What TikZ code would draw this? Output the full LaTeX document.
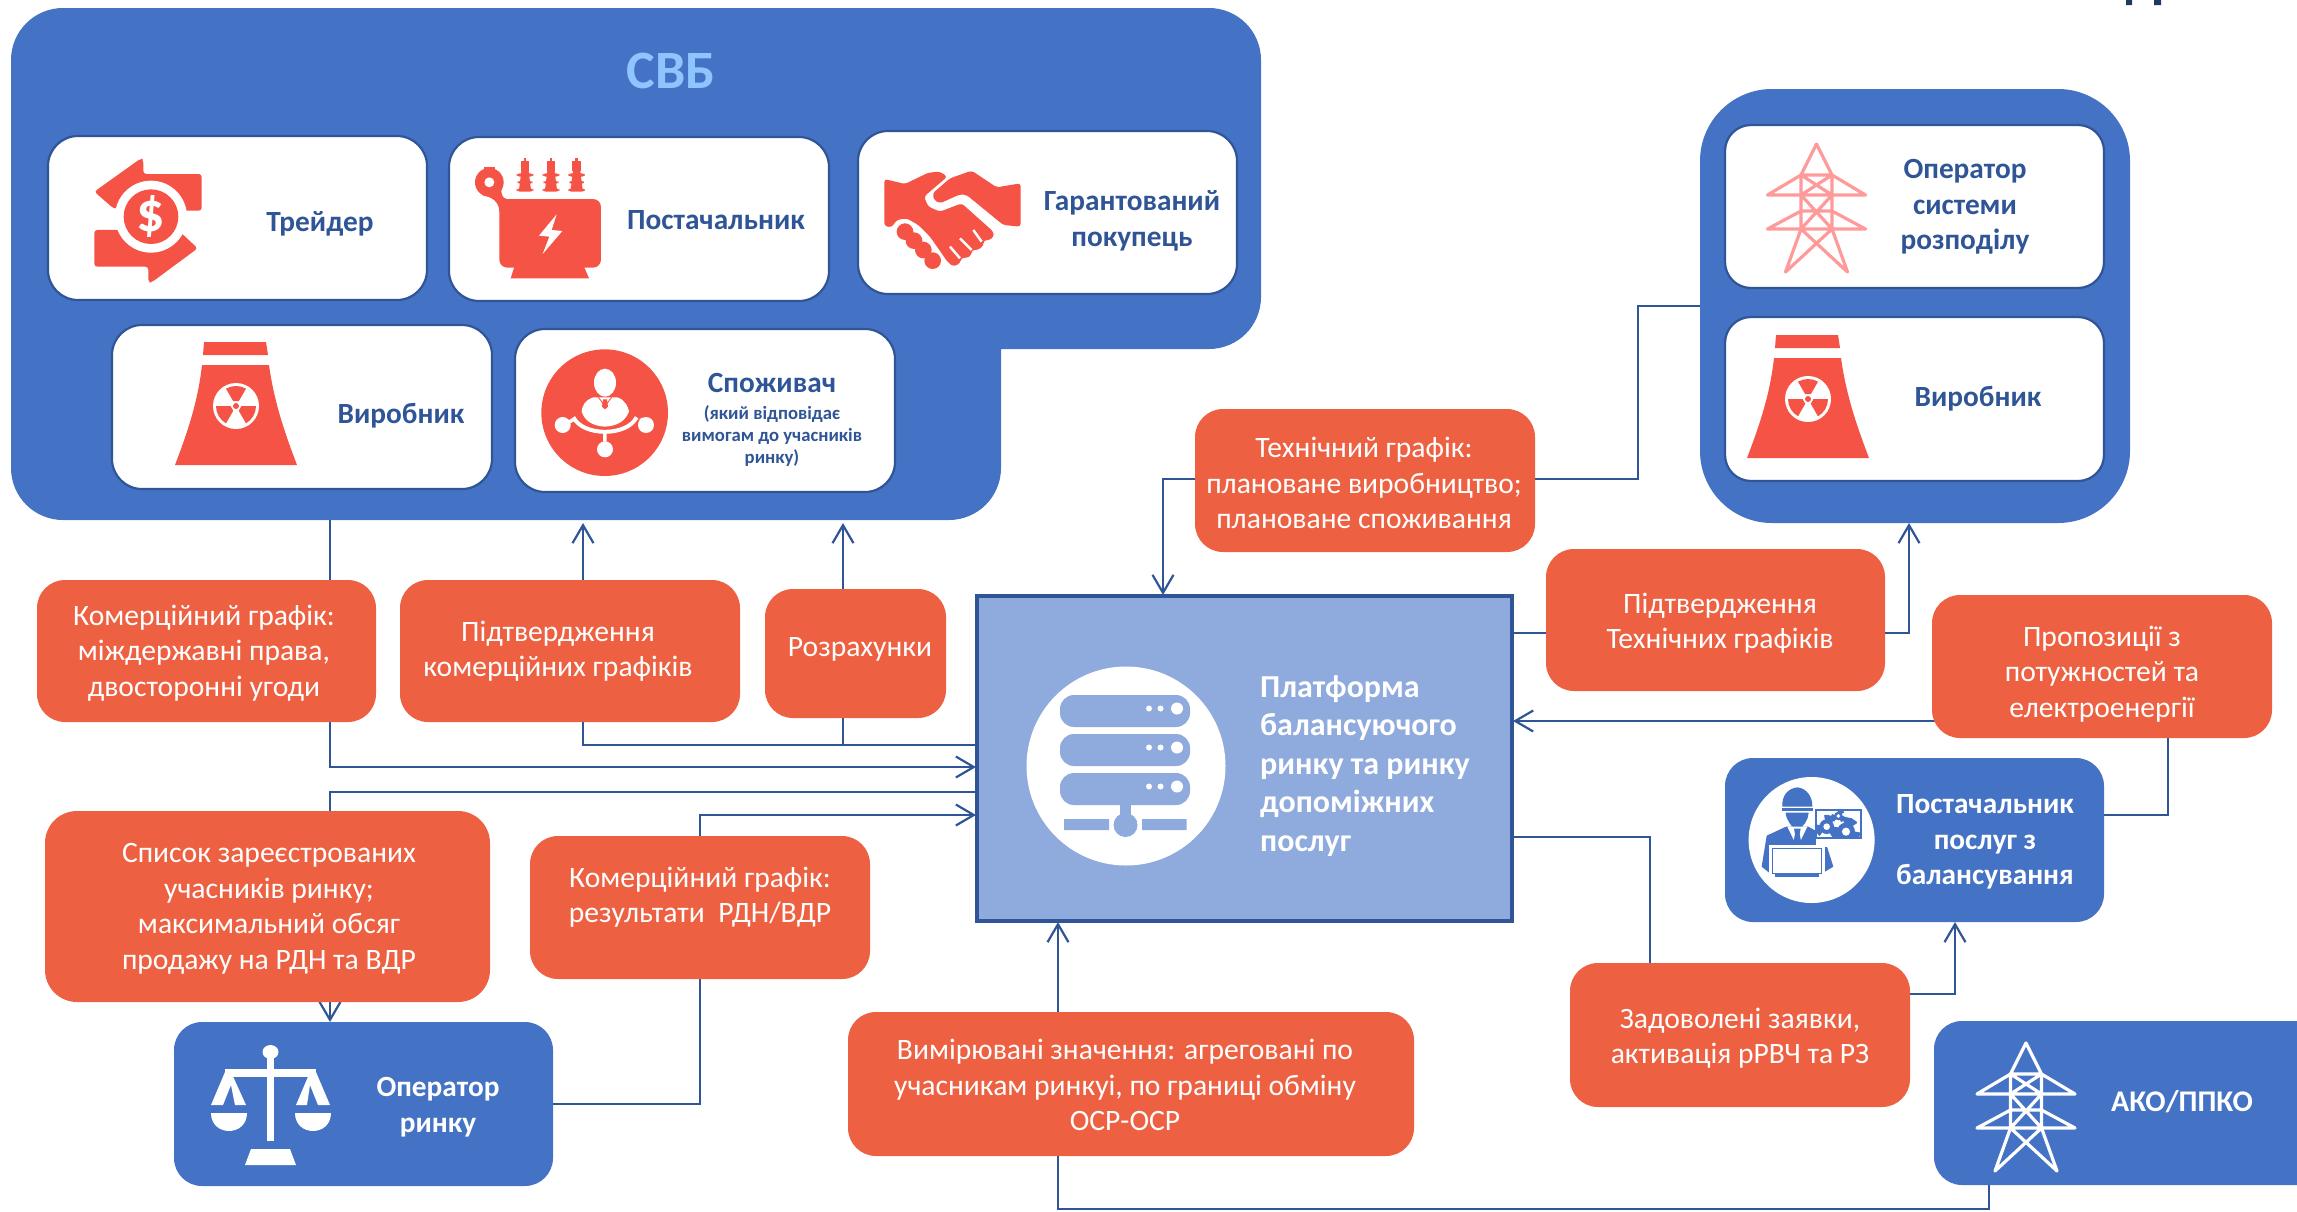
\documentclass[tikz,border=0pt]{standalone}
\usepackage{fontspec}
\setmainfont{Carlito}
\usetikzlibrary{arrows.meta}
\definecolor{blueF}{HTML}{4472C4}
\definecolor{blueD}{HTML}{2F5597}
\definecolor{blueL}{HTML}{8FAADC}
\definecolor{orangeF}{HTML}{ED6142}
\definecolor{redI}{HTML}{F55345}
\definecolor{pinkI}{HTML}{FF9A9A}
\definecolor{svbT}{HTML}{8FC5FF}
\definecolor{navy}{HTML}{1F3864}
\pgfdeclarelayer{bg}
\pgfsetlayers{bg,main}
\tikzset{
  card/.style={draw=blueD,line width=2.2pt,fill=white,rounded corners=30pt,inner sep=0pt,outer sep=0pt},
  cardR/.style={card,rounded corners=26pt},
  orangebox/.style={fill=orangeF,rounded corners=28pt,inner sep=0pt,outer sep=0pt},
  bluebox/.style={fill=blueF,rounded corners=28pt,inner sep=0pt,outer sep=0pt},
  cardtext/.style={text=blueD,align=center,inner sep=0pt,font=\fontsize{29.3}{35.5}\selectfont\bfseries},
  whitebold/.style={text=white,align=center,inner sep=0pt,font=\fontsize{29.3}{35.5}\selectfont\bfseries},
  orangetext/.style={text=white,align=center,inner sep=0pt,font=\fontsize{29.6}{35.5}\selectfont},
  link/.style={draw=blueD,line width=2.2pt},
  linkto/.style={link,-{Straight Barb[length=18pt,width=21pt,line width=2.2pt]}},
  pics/tower/.style={code={
    \fill[redI] (-32,-64) -- (30,-64) -- (32,-51) -- (-33,-51) -- cycle;
    \fill[redI] (-34,-41) -- (33,-41) .. controls (38,-5) and (48,25) .. (61,59) -- (-61,59) .. controls (-48,25) and (-38,-5) .. (-34,-41) -- cycle;
    \fill[white] (0,0) circle[radius=23];
    \foreach \a in {-90,30,150}{
      \fill[redI] (\a-30:5.5) -- (\a-30:20) arc[start angle=\a-30,end angle=\a+30,radius=20] -- (\a+30:5.5) -- cycle;
    }
    \fill[redI] (0,0) circle[radius=3];
  }},
  pics/pylon/.style={code={
    \draw[#1,line width=3.2pt,line join=round,line cap=round]
      (-15.5,31) -- (0,0) -- (15.5,31) -- cycle
      (-15.5,31) -- (-49,51) -- (49,51) -- (15.5,31)
      (-15.5,67) -- (-49,85) -- (49,85) -- (15.5,67) -- cycle
      (-15.5,31) -- (-15.5,85) -- (-31,128) -- (15.5,85) -- (15.5,31)
      (15.5,85) -- (31,128) -- (-15.5,85)
      (-15.5,31) -- (15.5,51) (15.5,31) -- (-15.5,51)
      (-15.5,51) -- (15.5,85) (15.5,51) -- (-15.5,85);
  }},
  pics/gear/.style={code={
    \fill[blueF] (0,0) circle[radius=#1];
    \draw[blueF,line width=#1*0.35pt,dash pattern=on #1*0.4pt off #1*0.4pt] (0,0) circle[radius=#1*1.08];
    \fill[white] (0,0) circle[radius=#1*0.45];
  }},
}
\newcommand\bx[7]{\node[#2,minimum width={#5-#3},minimum height={#6-#4}] (#1) at ({(#3+#5)/2},{(#4+#6)/2}) {#7};}
\begin{document}
\begin{tikzpicture}[x=1pt,y=-1pt]
\useasboundingbox (0,0) rectangle (2297,1211);
% partial title glyphs at the page top
\fill[navy] (2126,0) rectangle (2132,5) (2154,0) rectangle (2161,5);
% big containers
\fill[blueF,rounded corners=52pt] (11,200) -- (11,8) -- (1261,8) -- (1261,349) -- (1060,349) [sharp corners] -- (1001,349) -- (1001,420) [rounded corners=52pt] -- (1001,520) -- (11,520) -- cycle;
\node[text=svbT,inner sep=0pt,font=\fontsize{54}{60}\selectfont\bfseries] (svbtitle) at (671,71) {СВБ};
\bx{osrbox}{bluebox,rounded corners=72pt}{1700}{89}{2130}{523}{}
% cards
\bx{trader}{card}{48}{136}{427}{300}{}
\bx{supplier}{card}{449}{137}{829}{301}{}
\bx{buyer}{card}{858}{131}{1237}{294}{}
\bx{producer}{card}{112}{325}{492}{489}{}
\bx{consumer}{card}{515}{329}{895}{492}{}
\bx{dso}{cardR}{1725}{125}{2104}{288}{}
\bx{producerB}{cardR}{1725}{317}{2104}{481}{}
% platform
\bx{plat}{draw=blueD,line width=4pt,fill=blueL,inner sep=0pt,outer sep=0pt}{977}{596}{1512}{921}{}
% orange boxes
\bx{comA}{orangebox}{37}{580}{376}{722}{}
\bx{confA}{orangebox}{400}{580}{740}{722}{}
\bx{calc}{orangebox}{765}{589}{946}{718}{}
\bx{tech}{orangebox}{1195}{409}{1535}{552}{}
\bx{confT}{orangebox}{1546}{549}{1885}{691}{}
\bx{offer}{orangebox}{1932}{595}{2272}{738}{}
\bx{list}{orangebox,rounded corners=32pt}{45}{811}{490}{1002}{}
\bx{comB}{orangebox}{530}{836}{870}{979}{}
\bx{meas}{orangebox}{848}{1012}{1414}{1156}{}
\bx{sat}{orangebox}{1570}{963}{1910}{1107}{}
% orange box texts
\node[orangetext] (comAt) at (204,653) {Комерційний графік:\\міждержавні права,\\двосторонні угоди};
\node[orangetext] (confAt) at (558,651) {Підтвердження\\комерційних графіків};
\node[orangetext] (calct) at (860,649) {Розрахунки};
\node[orangetext] (techt) at (1364,483) {Технічний графік:\\плановане виробництво;\\плановане споживання};
\node[orangetext] (confTt) at (1720,623) {Підтвердження\\Технічних графіків};
\node[orangetext] (offert) at (2102,674) {Пропозиції з\\потужностей та\\електроенергії};
\node[orangetext] (listt) at (269,909) {Список зареєстрованих\\учасників ринку;\\максимальний обсяг\\продажу на РДН та ВДР};
\node[orangetext] (comBt) at (700,897) {Комерційний графік:\\результати~~РДН/ВДР};
\node[orangetext] (meast) at (1125,1085) {Вимірювані значення: агреговані по\\учасникам ринкуі, по границі обміну\\ОСР-ОСР};
\node[orangetext] (satt) at (1740,1038) {Задоволені заявки,\\активація рРВЧ та РЗ};
% blue boxes
\bx{market}{bluebox}{174}{1022}{553}{1186}{}
\bx{bsp}{bluebox}{1725}{758}{2104}{922}{}
\bx{tso}{bluebox}{1934}{1021}{2325}{1185}{}
% port coordinates
\coordinate (svbA) at (330,520);
\coordinate (svbB) at (583,523);
\coordinate (svbC) at (843,523);
\coordinate (pL1) at (976,767);
\coordinate (pL2) at (976,745);
\coordinate (jL2) at (843,745);
\coordinate (pL3) at (976,792);
\coordinate (pL4) at (976,815);
\coordinate (kL4) at (700,815);
\coordinate (mT) at (330,1022);
\coordinate (mR) at (553,1104);
\coordinate (oL) at (1700,306);
\coordinate (kT) at (1638,479);
\coordinate (pT) at (1163,595);
\coordinate (pR1) at (1513,633);
\coordinate (oB) at (1909,523);
\coordinate (bR) at (2104,815);
\coordinate (kR2) at (2168,721);
\coordinate (pR2) at (1513,721);
\coordinate (pR3) at (1513,837);
\coordinate (kR3) at (1650,994);
\coordinate (bB) at (1955,922);
\coordinate (tB) at (1989,1185);
\coordinate (kB) at (1058,1209);
\coordinate (pB) at (1058,922);
\begin{pgfonlayer}{bg}
\draw[linkto] (svbA) |- (pL1);
\draw[linkto] (pL2) -| (svbB);
\draw[linkto] (jL2) -- (svbC);
\draw[linkto] (pL3) -| (mT);
\draw[linkto] (mR) -| (kL4) -- (pL4);
\draw[linkto] (oL) -| (kT) -| (pT);
\draw[linkto] (pR1) -| (oB);
\draw[linkto] (bR) -| (kR2) -- (pR2);
\draw[linkto] (pR3) -| (kR3) -| (bB);
\draw[linkto] (tB) |- (kB) -- (pB);
\end{pgfonlayer}
% card text
\node[cardtext] (t1) at (320,224) {Трейдер};
\node[cardtext] (t2) at (716,220) {Постачальник};
\node[cardtext] (t3) at (1132,221) {Гарантований\\покупець};
\node[cardtext] (t4) at (401,416) {Виробник};
\node[cardtext] (t5) at (772,383) {Споживач};
\node[cardtext,font=\fontsize{18.7}{22.3}\selectfont\bfseries] (t6) at (772,436) {(який відповідає\\вимогам до учасників\\ринку)};
\node[cardtext] (t7) at (1965,207) {Оператор\\системи\\розподілу};
\node[cardtext] (t8) at (1978,399) {Виробник};
\node[whitebold] (t9) at (1985,842) {Постачальник\\послуг з\\балансування};
\node[whitebold,font=\fontsize{30}{36}\selectfont\bfseries] (t10) at (2182,1102) {АКО/ППКО};
\node[whitebold] (t11) at (438,1107) {Оператор\\ринку};
\node[whitebold,align=left,anchor=west,font=\fontsize{32}{38.5}\selectfont\bfseries] (t12) at (1260,766) {Платформа\\балансуючого\\ринку та ринку\\допоміжних\\послуг};
% trader icon
\begin{scope}[shift={(85,150)},x=0.3333pt,y=-0.3333pt]
  \fill[redI,rounded corners=3pt] (168,25) -- (175,30) -- (175,72) -- (350,72) -- (350,182) -- (280,182) -- (85,175) -- (28,125) -- cycle;
  \fill[redI,rounded corners=3pt] (28,240) -- (28,350) -- (190,350) -- (190,397) -- (200,397) -- (338,295) -- (290,250) -- (100,240) -- cycle;
  \fill[white] (198,200) circle[radius=108];
  \fill[redI] (198,200) circle[radius=82];
  \node[text=white,inner sep=0pt,font=\fontsize{56}{56}\selectfont\bfseries] (dollar) at (198,200) {\$};
\end{scope}
% transformer icon
\begin{scope}[shift={(460,145)},x=0.3333pt,y=-0.3333pt]
  \fill[redI,rounded corners=8pt] (118,162) rectangle (423,368);
  \fill[redI] (165,360) -- (370,360) -- (387,400) -- (152,400) -- cycle;
  \fill[redI] (72,65) rectangle (105,85);
  \fill[redI] (88,112) circle[radius=43];
  \fill[redI] (65,150) .. controls (95,155) and (118,170) .. (118,200) -- (140,200) -- (140,162) .. controls (125,160) and (122,140) .. (125,130) -- cycle;
  \fill[white] (88,112) circle[radius=15];
  \fill[white] (290,208) -- (237,272) -- (268,275) -- (248,327) -- (307,258) -- (275,255) -- cycle;
  \foreach \ix in {195,273,350}{
    \fill[redI] (\ix-4,40) rectangle (\ix+4,50);
    \fill[redI] (\ix-13,48) rectangle (\ix+13,78);
    \fill[redI] (\ix-11,78) -- (\ix+11,78) -- (\ix+18,135) -- (\ix-18,135) -- cycle;
    \fill[redI,rounded corners=3pt] (\ix-25,85) rectangle (\ix+25,95);
    \fill[redI,rounded corners=3pt] (\ix-22,107) rectangle (\ix+22,117);
    \fill[redI,rounded corners=3pt] (\ix-25,130) rectangle (\ix+25,140);
  }
\end{scope}
% handshake icon
\begin{scope}[shift={(860,150)},x=0.3333pt,y=-0.3333pt]
  \fill[redI,rounded corners=3pt] (73,87) -- (135,102) -- (205,68) -- (240,65) -- (262,80) -- (192,140) -- (205,170) -- (240,185) -- (305,160) -- (400,245) -- (402,260) -- (385,272) -- (370,270) -- (372,285) -- (355,300) -- (335,300) -- (335,315) -- (320,325) -- (305,322) -- (300,340) -- (280,350) -- (262,335) -- (245,310) -- (210,260) -- (175,225) -- (140,205) -- (110,210) -- (95,232) -- (73,228) -- cycle;
  \fill[redI,rounded corners=3pt] (270,85) -- (335,62) -- (410,112) -- (482,100) -- (482,230) -- (430,225) -- (320,135) -- (300,133) -- (240,160) -- (222,150) -- (218,130) -- cycle;
  \draw[white,line width=2.5pt] (340,240) -- (365,275) (300,265) -- (335,300) (270,290) -- (300,325);
  \foreach \kx/\ky in {135/245,162/272,190/300,218/332}{\fill[redI] (\kx,\ky) circle[radius=25];}
\end{scope}
% towers
\pic (towerA) at (236,406) {tower};
\pic (towerB) at (1808,399) {tower};
% consumer icon
\begin{scope}[shift={(530,340)},x=0.3333pt,y=-0.3333pt]
  \fill[redI] (224,218) circle[radius=190];
  \fill[white] (225,128) ellipse[x radius=33,y radius=42];
  \fill[white] (190,172) .. controls (165,180) and (155,200) .. (155,215) .. controls (165,245) and (190,258) .. (225,260) .. controls (260,258) and (285,245) .. (297,215) .. controls (295,200) and (285,180) .. (262,172) -- cycle;
  \draw[redI,line width=0.8pt] (205,172) -- (225,198) -- (245,172);
  \fill[redI] (219,178) -- (231,178) -- (234,200) -- (225,208) -- (216,200) -- cycle;
  \draw[white,line width=4pt] (130,232) .. controls (160,290) and (290,290) .. (320,232);
  \draw[white,line width=3.5pt] (118,246) -- (134,236) (332,236) -- (340,246) (225,280) -- (225,305);
  \fill[white] (98,255) circle[radius=24] (348,255) circle[radius=24] (225,328) circle[radius=24];
\end{scope}
% pylons
\pic (pylonA) at (1816.5,144) {pylon=pinkI};
\pic (pylonB) at (2026,1043) {pylon=white};
% server icon
\fill[white] (1126,766) circle[radius=99.5];
\foreach \ry in {695,734,773}{
  \fill[blueL,rounded corners=14pt] (1060,\ry) rectangle (1190,\ry+32);
  \fill[white] (1149,\ry+13.5) circle[radius=3] (1160.5,\ry+13.5) circle[radius=3] (1177,\ry+13.5) circle[radius=6];
}
\fill[blueL] (1120,805) rectangle (1131,815);
\fill[blueL] (1064,819) rectangle (1109,830) (1142,819) rectangle (1186.5,830);
\fill[blueL] (1125.5,825) circle[radius=12];
% engineer icon
\fill[white] (1811.6,840) circle[radius=63];
\begin{scope}[shift={(1740,770)},x=0.3333pt,y=-0.3333pt]
  \fill[blueF] (127,110) .. controls (125,75) and (145,55) .. (172,52) .. controls (200,55) and (218,80) .. (217,110) -- cycle;
  \fill[blueF] (125,115) rectangle (220,123);
  \fill[blueF] (137,128) -- (206,128) .. controls (205,150) and (190,172) .. (172,180) .. controls (155,172) and (138,150) .. (137,128) -- cycle;
  \fill[blueF] (65,290) -- (80,197) -- (138,170) -- (205,170) -- (250,195) -- (280,290) -- (255,305) -- (90,310) -- cycle;
  \fill[white] (142,170) -- (202,170) -- (172,232) -- cycle;
  \fill[blueF] (162,176) -- (182,176) -- (179,192) -- (184,218) -- (172,230) -- (160,218) -- (165,192) -- cycle;
  \fill[white] (88,225) rectangle (255,325);
  \draw[blueF,line width=1.4pt] (98,235) rectangle (245,310);
  \fill[blueF] (105,312) rectangle (238,322);
  \draw[blueF,line width=1.8pt,fill=white] (228,120) rectangle (362,205);
  \pic (gearA) at (260,170) {gear=22};
  \pic (gearB) at (295,138) {gear=13};
  \pic (gearC) at (318,185) {gear=27};
  \fill[white] (228,208) rectangle (365,230);
\end{scope}
% scales icon
\fill[white] (270.5,1052) ellipse[x radius=8,y radius=7];
\fill[white] (267,1052) rectangle (274,1141);
\fill[white] (225,1069) rectangle (316,1077);
\fill[white] (225,1072) -- (211,1105) -- (223,1105) -- (231,1085) -- (235,1105) -- (246,1105) -- (231,1072) -- cycle;
\fill[white] (316,1072) -- (330,1105) -- (318,1105) -- (310,1085) -- (307,1105) -- (296,1105) -- (310,1072) -- cycle;
\fill[white] (211,1113) -- (247,1113) .. controls (247,1137) and (211,1137) .. (211,1113) -- cycle;
\fill[white] (295,1113) -- (331,1113) .. controls (331,1137) and (295,1137) .. (295,1113) -- cycle;
\fill[white] (251,1149) -- (290,1149) -- (296,1165) -- (245,1165) -- cycle;
\end{tikzpicture}
\end{document}
